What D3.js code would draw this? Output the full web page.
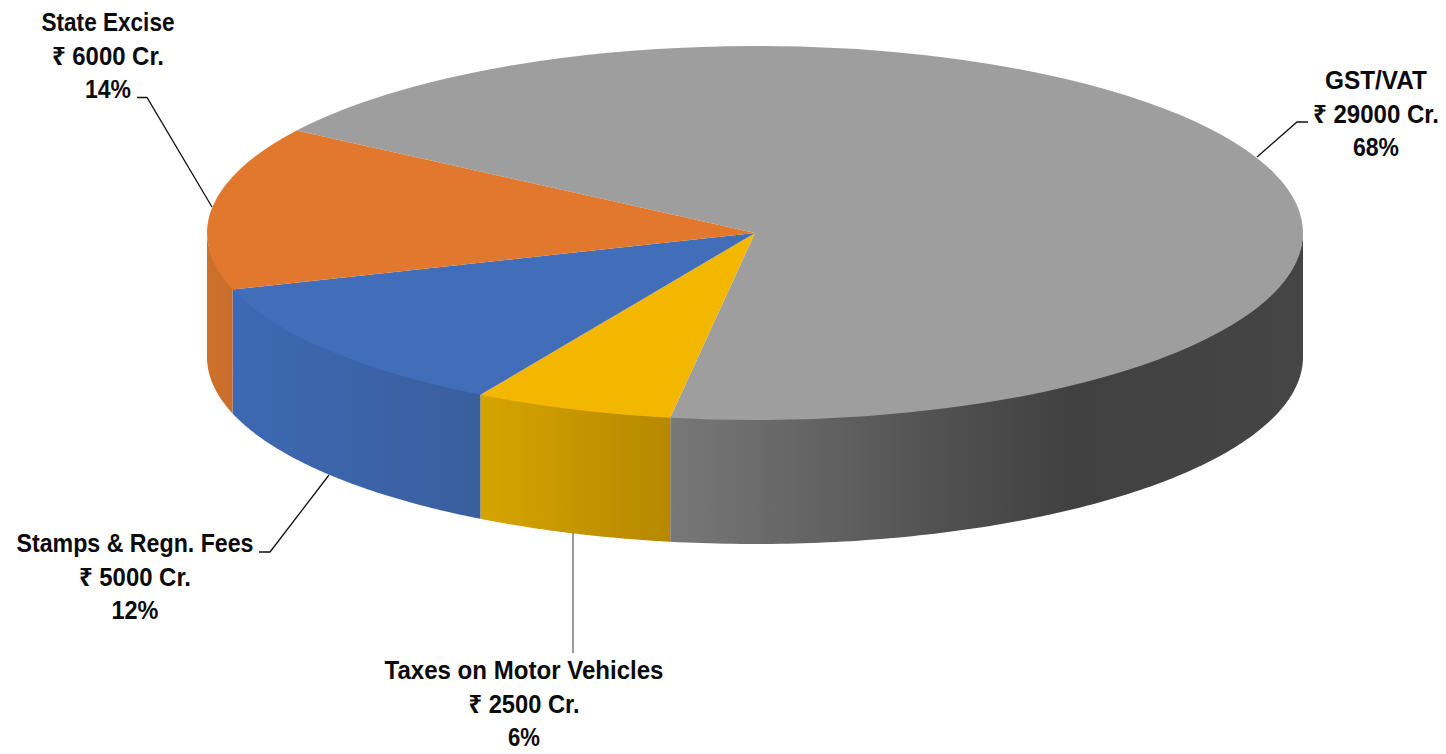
<!DOCTYPE html>
<html>
<head>
<meta charset="utf-8">
<title>State own tax revenue</title>
<script src="https://cdn.jsdelivr.net/npm/d3@7"></script>
<style>
  html, body { margin: 0; background: #fff; }
  svg { display: block; }
  text { font-family: "Liberation Sans", "Noto Sans", sans-serif; font-weight: 700; fill: #0b0b0b; font-size: 25.5px; text-anchor: middle; }
</style>
</head>
<body>
<svg id="chart" width="1446" height="754"></svg>
<script>
// Revenue sources, clockwise from the back edge of the disc
const categories = ["GST/VAT", "Taxes on Motor Vehicles", "Stamps & Regn. Fees", "State Excise"];
const amounts = [29000, 2500, 5000, 6000];
const topColors = ["#9e9e9e", "#f4b700", "#416db9", "#e1782e"];
// Side wall shading, light to dark from left to right
const wallStops = [
  [[0, "#787878"], [0.45, "#4f4f4f"], [0.63, "#414141"], [1, "#454545"]],
  [[0, "#d6a400"], [1, "#b58800"]],
  [[0, "#3d68b2"], [1, "#3a5f9f"]],
  [[0, "#cd702c"], [1, "#c86e2c"]]
];
// Label block centre, first baseline, row widths and leader polyline for each source
const labelCentres = [1376, 524, 135, 108];
const labelBaselines = [89, 679, 552, 31];
const rowWidths = [[102, 126, 46], [279, 111, 32], [237, 112, 47], [133, 112, 46]];
const leaders = [
  [[1308, 122], [1297, 122], [1257, 157]],
  [[573, 533], [573, 653]],
  [[259, 552], [270, 552], [329, 475]],
  [[137, 97.5], [147, 97.5], [212, 207]]
];
const leaderColors = ["#111", "#666", "#111", "#111"];

const cx = 755, cy = 233, rx = 548, ry = 187, depth = 124, lineGap = 33.6;
const firstAngle = 303.25 * Math.PI / 180;

const svg = d3.select("#chart");
const total = d3.sum(amounts);
const pie = d3.pie().sort(null).startAngle(firstAngle).endAngle(firstAngle + 2 * Math.PI);
const slices = pie(amounts);

const ex = d3.scaleLinear().domain([-1, 1]).range([cx - rx, cx + rx]);
const ey = d3.scaleLinear().domain([-1, 1]).range([cy - ry, cy + ry]);

// Part of a slice's rim that faces the viewer (pi/2 to 3pi/2 around the disc)
function frontRange(s) {
  for (const k of [-1, 0, 1, 2]) {
    const a = Math.max(s.startAngle, Math.PI / 2 + 2 * Math.PI * k);
    const b = Math.min(s.endAngle, 3 * Math.PI / 2 + 2 * Math.PI * k);
    if (a < b) return [a, b];
  }
  return null;
}

const defs = svg.append("defs");
const rimPoint = (t, dy) => [ex(Math.sin(t)), ey(-Math.cos(t)) + dy];
const line = d3.line();

slices.forEach((s, i) => {
  const range = frontRange(s);
  if (!range) return;
  const xs = [Math.sin(range[0]), Math.sin(range[1])].map(ex);
  const grad = defs.append("linearGradient")
    .attr("id", "wall" + i)
    .attr("gradientUnits", "userSpaceOnUse")
    .attr("x1", d3.min(xs)).attr("x2", d3.max(xs)).attr("y1", 0).attr("y2", 0);
  wallStops[i].forEach(st => grad.append("stop").attr("offset", st[0]).attr("stop-color", st[1]));

  // The wall starts just under the top face so no seam shows along the rim
  const ts = d3.range(0, 121).map(j => range[0] + (range[1] - range[0]) * j / 120);
  const pts = ts.map(t => rimPoint(t, -1.5)).concat(ts.slice().reverse().map(t => rimPoint(t, depth)));
  svg.append("path").attr("d", line(pts) + "Z").attr("fill", `url(#wall${i})`);
});

// Top face: a circular pie squashed into an ellipse
const arc = d3.arc().innerRadius(0).outerRadius(ry);
svg.append("g")
  .attr("transform", `translate(${cx},${cy}) scale(${rx / ry},1)`)
  .selectAll("path")
  .data(slices)
  .join("path")
  .attr("d", arc)
  .attr("fill", (d, i) => topColors[i]);

// Leader lines
leaders.forEach((pts, i) => {
  svg.append("path").attr("d", line(pts)).attr("fill", "none")
    .attr("stroke", leaderColors[i]).attr("stroke-width", 1.3);
});

// Data labels, condensed to the width of each row
categories.forEach((name, i) => {
  const rows = [name, `₹ ${amounts[i]} Cr.`, `${Math.round(amounts[i] / total * 100)}%`];
  svg.append("g").selectAll("text").data(rows).join("text")
    .attr("x", labelCentres[i])
    .attr("y", (d, j) => labelBaselines[i] + j * lineGap)
    .attr("textLength", (d, j) => rowWidths[i][j])
    .attr("lengthAdjust", "spacingAndGlyphs")
    .text(d => d);
});
</script>
</body>
</html>
